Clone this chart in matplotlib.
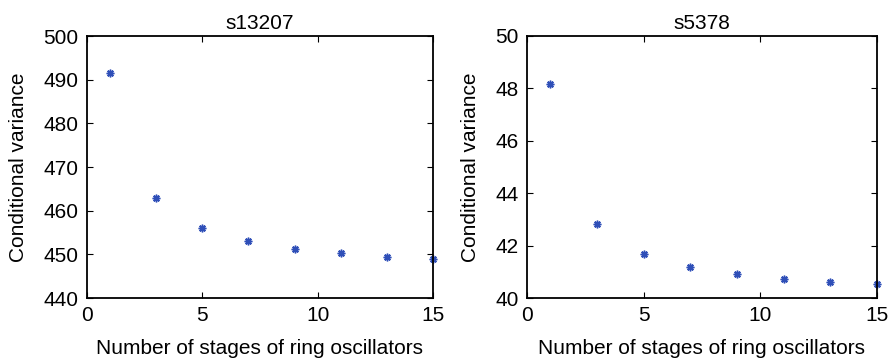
import matplotlib
matplotlib.use("Agg")
import matplotlib.pyplot as plt

stages = [1, 3, 5, 7, 9, 11, 13, 15]
var_s13207 = [491.6, 462.9, 456.1, 453.1, 451.3, 450.2, 449.4, 448.9]
var_s5378 = [48.15, 42.82, 41.67, 41.18, 40.92, 40.74, 40.61, 40.52]

plt.rcParams["font.family"] = ["Liberation Sans", "DejaVu Sans"]
plt.rcParams["font.size"] = 15

fig = plt.figure(figsize=(8.9, 3.58), dpi=100)
ax1 = fig.add_axes([87 / 890, 60 / 358, 346 / 890, 262 / 358])
ax2 = fig.add_axes([527 / 890, 60 / 358, 350 / 890, 262 / 358])

panels = [
    (ax1, var_s13207, "s13207", (440, 500), [440, 450, 460, 470, 480, 490, 500]),
    (ax2, var_s5378, "s5378", (40, 50), [40, 42, 44, 46, 48, 50]),
]

for ax, vals, title, ylim, yticks in panels:
    ax.plot(stages, vals, linestyle="none", marker=(8, 2, 0), color="#2f4fb8",
            markersize=5.5, markeredgewidth=1.1, clip_on=False)
    ax.set_xlim(0, 15)
    ax.set_ylim(*ylim)
    ax.set_xticks([0, 5, 10, 15])
    ax.set_yticks(yticks)
    ax.tick_params(direction="in", top=True, right=True, length=4, width=0.8,
                   labelsize=15, colors="black", pad=6)
    for s in ax.spines.values():
        s.set_linewidth(1.3)
    ax.set_title(title, fontsize=15, pad=5)
    ax.set_xlabel("Number of stages of ring oscillators", fontsize=15, labelpad=10)
    ax.set_ylabel("Conditional variance", fontsize=15, labelpad=11)

fig.savefig("out.png", dpi=100)
